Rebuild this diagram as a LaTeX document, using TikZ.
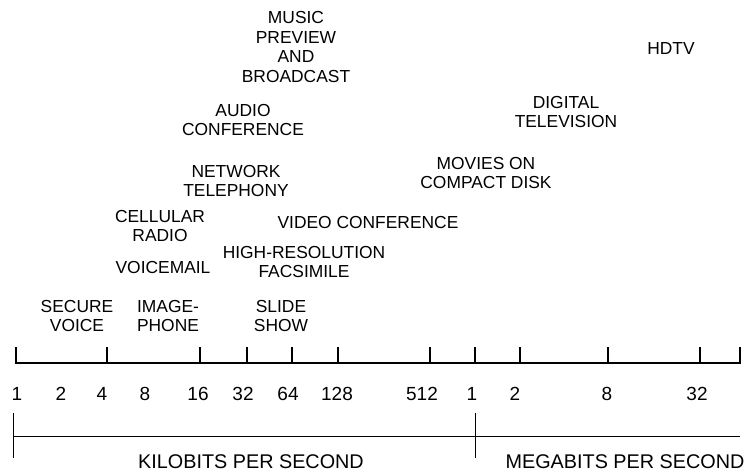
\documentclass[tikz,border=0pt]{standalone}
\usepackage{fontspec}
\setmainfont{Liberation Sans}
\usetikzlibrary{positioning}
\tikzset{
  app/.style={align=center, font=\fontsize{17.4}{19.5}\selectfont, inner sep=0pt},
  num/.style={font=\fontsize{19}{22}\selectfont, inner sep=0pt},
  unit/.style={font=\fontsize{19.8}{22}\selectfont, inner sep=0pt},
  axis/.style={line width=2.8pt},
  span/.style={line width=0.9pt},
}
\begin{document}
\begin{tikzpicture}[x=1pt, y=-1pt]
    \useasboundingbox (0,0) rectangle (746,473);
    % applications
    \node[app] (music) at (296,47) {MUSIC\\PREVIEW\\AND\\BROADCAST};
    \node[app] (hdtv) at (671,49) {HDTV};
    \node[app] (dtv) at (566,112) {DIGITAL\\TELEVISION};
    \node[app] (audio) at (243,120) {AUDIO\\CONFERENCE};
    \node[app] (movies) at (486,173) {MOVIES ON\\COMPACT DISK};
    \node[app] (net) at (236,181) {NETWORK\\TELEPHONY};
    \node[app] (video) at (368,223) {VIDEO CONFERENCE};
    \node[app] (cell) at (160,226) {CELLULAR\\RADIO};
    \node[app] (fax) at (304,262) {HIGH-RESOLUTION\\FACSIMILE};
    \node[app] (vmail) at (163,268) {VOICEMAIL};
    \node[app] (secure) at (77,316) {SECURE\\VOICE};
    \node[app] (image) at (168,316) {IMAGE-\\PHONE};
    \node[app] (slide) at (281,316) {SLIDE\\SHOW};
    % scale
    \coordinate (a0) at (16,347);
    \coordinate (a1) at (740,347);
    \draw[axis] (a0) -- (a0 |- 0,363) -- (a1 |- 0,363) -- (a1);
    \foreach \x in {107,200,247,292,338,430,475,520,608,700}
      \draw[axis] (\x,363) -- (\x,347);
    \foreach \x/\t [count=\i] in {17/1, 61/2, 102/4, 145/8, 198/16, 243/32, 288/64,
      337/128, 422/512, 472/1, 515/2, 607/8, 697/32}
      \node[num] (n\i) at (\x,393.5) {\t};
    % units
    \coordinate (k0) at (13,413);
    \coordinate (k1) at (13,458);
    \coordinate (m0) at (475,413);
    \coordinate (m1) at (475,458);
    \coordinate (h0) at (13,436);
    \coordinate (h1) at (740,436);
    \draw[span] (k0) -- (k1);
    \draw[span] (m0) -- (m1);
    \draw[span] (h0) -- (h1);
    \node[unit] (kbps) at (251,462) {KILOBITS PER SECOND};
    \node[unit] (mbps) at (625,462) {MEGABITS PER SECOND};
\end{tikzpicture}
\end{document}
